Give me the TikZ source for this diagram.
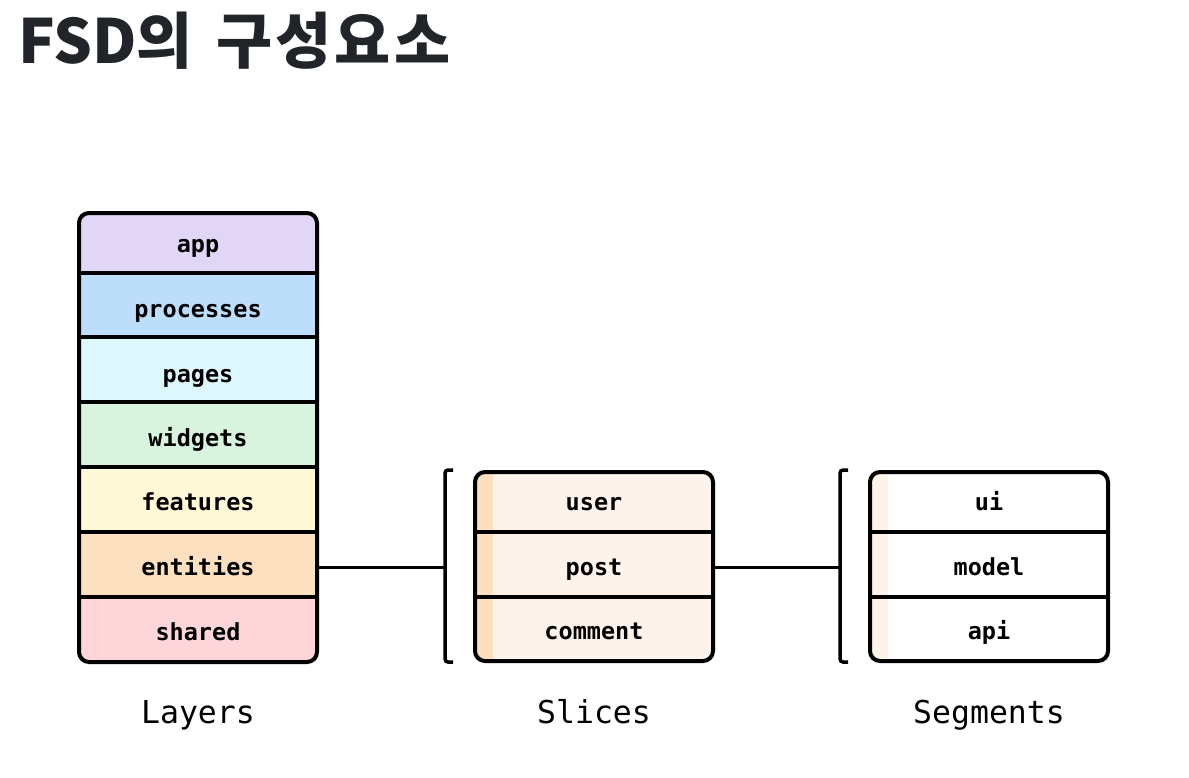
\documentclass[tikz,border=0pt]{standalone}
\usepackage{fontspec}
\newfontfamily\titlefont{Noto Sans CJK KR}
\newfontfamily\monofont{DejaVu Sans Mono}
\definecolor{ink}{HTML}{212529}
\definecolor{appc}{HTML}{E1D6F5}
\definecolor{procc}{HTML}{BCDEFB}
\definecolor{pagec}{HTML}{DCF8FD}
\definecolor{widc}{HTML}{D8F4DF}
\definecolor{featc}{HTML}{FFF9D7}
\definecolor{entc}{HTML}{FDE0BF}
\definecolor{shc}{HTML}{FED6D9}
\definecolor{slicec}{HTML}{FDF3EA}
\definecolor{stripec}{HTML}{FDDFBF}
\definecolor{segstripe}{HTML}{FEF3E8}
\tikzset{
  row/.style={anchor=base, inner sep=0pt, font=\monofont\bfseries\fontsize{23.5}{25}\selectfont, text=black},
  lbl/.style={anchor=base, inner sep=0pt, font=\monofont\fontsize{31.5}{34}\selectfont, text=black},
  border/.style={draw=black, line width=4pt, rounded corners=10pt},
  sep/.style={draw=black, line width=3.5pt},
  brk/.style={draw=black, line width=3.5pt, rounded corners=3pt},
  conn/.style={draw=black, line width=3pt}
}
\begin{document}
\begin{tikzpicture}[x=1pt,y=-1pt]
\useasboundingbox (0,0) rectangle (1189,777);
\fill[white] (0,0) rectangle (1189,777);
% title
\node[anchor=base west, inner sep=0pt, text=ink, font=\titlefont\bfseries\fontsize{61}{64}\selectfont] (title) at (18,63) {FSD의\hspace{10pt} \addfontfeature{LetterSpace=5}구성요소};
% Layers
\begin{scope}
\clip[rounded corners=10pt] (79,213) rectangle (317,662);
\fill[appc] (79,213) rectangle (317,273);
\fill[procc] (79,273) rectangle (317,337);
\fill[pagec] (79,337) rectangle (317,402);
\fill[widc] (79,402) rectangle (317,467);
\fill[featc] (79,467) rectangle (317,532);
\fill[entc] (79,532) rectangle (317,597);
\fill[shc] (79,597) rectangle (317,662);
\end{scope}
\node[row] (app) at (198,252) {app};
\node[row] (proc) at (198,317) {processes};
\node[row] (pages) at (198,382) {pages};
\node[row] (widgets) at (198,446) {widgets};
\node[row] (features) at (198,510) {features};
\node[row] (entities) at (198,575) {entities};
\node[row] (shared) at (198,640) {shared};
\foreach \y in {273,337,402,467,532,597} \draw[sep] (79,\y) -- (317,\y);
\draw[border] (79,213) rectangle (317,662);
% Slices
\begin{scope}
\clip[rounded corners=10pt] (475,472) rectangle (713,661);
\fill[slicec] (475,472) rectangle (713,661);
\fill[stripec] (475,472) rectangle (493,661);
\end{scope}
\node[row] (user) at (594,510) {user};
\node[row] (post) at (594,575) {post};
\node[row] (comment) at (594,639) {comment};
\foreach \y in {532,597} \draw[sep] (475,\y) -- (713,\y);
\draw[border] (475,472) rectangle (713,661);
% Segments
\begin{scope}
\clip[rounded corners=10pt] (870,472) rectangle (1108,661);
\fill[white] (870,472) rectangle (1108,661);
\fill[segstripe] (870,472) rectangle (888,661);
\end{scope}
\node[row] (ui) at (989,510) {ui};
\node[row] (model) at (989,575) {model};
\node[row] (api) at (989,639) {api};
\foreach \y in {532,597} \draw[sep] (870,\y) -- (1108,\y);
\draw[border] (870,472) rectangle (1108,661);
% brackets
\draw[brk] (453,470) -- (445,470) -- (445,662) -- (453,662);
\draw[brk] (848,470) -- (840,470) -- (840,662) -- (848,662);
\coordinate (b1) at (445,567);
\coordinate (b2) at (840,567);
\coordinate (e1) at (317,567);
\coordinate (e2) at (713,567);
\draw[conn] (e1) -- (b1);
\draw[conn] (e2) -- (b2);
% labels
\node[lbl] (layers) at (198,723) {Layers};
\node[lbl] (slices) at (594,723) {Slices};
\node[lbl] (segments) at (989,723) {Segments};
\end{tikzpicture}
\end{document}
